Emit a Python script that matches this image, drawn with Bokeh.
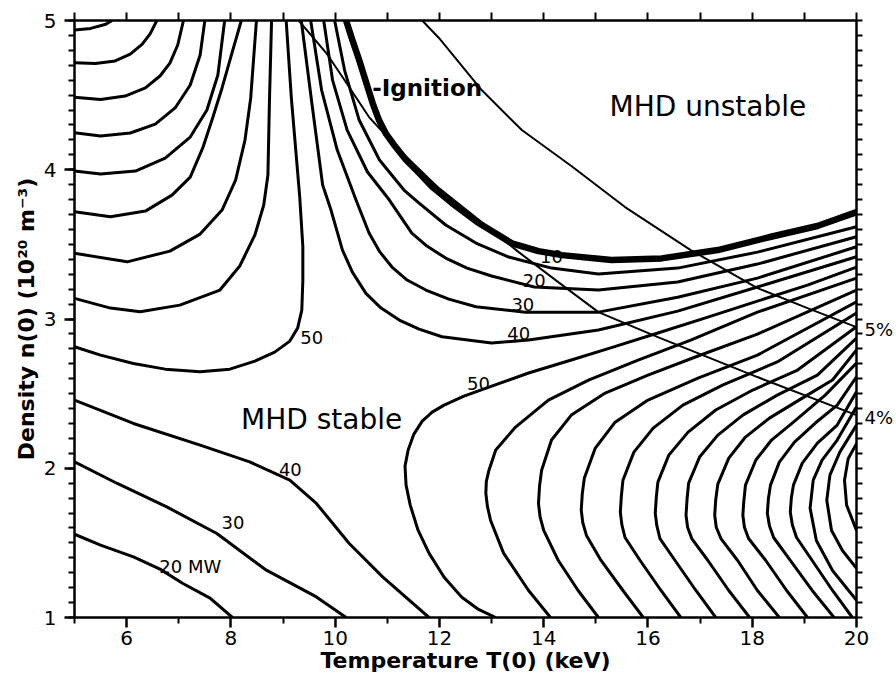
from bokeh.plotting import figure
from bokeh.models import (FixedTicker, LinearAxis, Label, ColumnDataSource, Range1d,
                          CustomJSTickFormatter)
from bokeh.embed import file_html
from bokeh.resources import INLINE
from bokeh.core.properties import value

# ---------------- axis ticks ----------------
T_MAJOR = [6, 8, 10, 12, 14, 16, 18, 20]
T_MINOR = [5, 7, 9, 11, 13, 15, 17, 19]
T_ALL = list(range(5, 21))
N_MAJOR = [1, 2, 3, 4, 5]
N_MINOR = [round(1 + 0.1 * i, 1) for i in range(41)]

# ---------------- digitised contours (T in keV, n in 1e20 m^-3) ----------------
# lower-left auxiliary power contours
P20_T = [5, 5.5, 6.13, 6.64, 7.08, 7.6, 8.03]
P20_N = [1.558, 1.485, 1.406, 1.324, 1.228, 1.13, 1.0]
P30_T = [5, 5.82, 6.77, 7.73, 8.68, 9.64, 10.21]
P30_N = [2.043, 1.898, 1.741, 1.563, 1.317, 1.138, 1.0]
P40_T = [5, 6.13, 7.41, 8.36, 9.13, 9.64, 10.27, 10.91, 11.8]
P40_N = [2.456, 2.30, 2.155, 2.043, 1.92, 1.764, 1.496, 1.272, 1.0]

# upper-left family
U1_T = [5, 5.31, 5.6, 5.72]
U1_N = [4.936, 4.947, 4.975, 5.0]
U2_T = [5, 5.40, 5.78, 6.07, 6.30, 6.45, 6.58]
U2_N = [4.717, 4.712, 4.729, 4.775, 4.842, 4.910, 5.0]
U3_T = [5, 5.50, 5.97, 6.36, 6.64, 6.83, 6.98, 7.09]
U3_N = [4.485, 4.470, 4.494, 4.548, 4.628, 4.715, 4.836, 5.0]
U4_T = [5, 5.50, 6.07, 6.55, 6.93, 7.22, 7.41, 7.50]
U4_N = [4.248, 4.226, 4.246, 4.306, 4.414, 4.568, 4.769, 5.0]
U5_T = [5, 5.50, 6.17, 6.74, 7.22, 7.54, 7.75, 7.88]
U5_N = [3.991, 3.971, 3.991, 4.078, 4.219, 4.400, 4.635, 5.0]
U6_T = [5, 5.69, 6.36, 6.87, 7.22, 7.46, 7.65, 7.83, 8.02, 8.20]
U6_N = [3.718, 3.685, 3.723, 3.830, 3.951, 4.146, 4.347, 4.548, 4.782, 5.0]
U7_T = [5, 6.01, 6.83, 7.41, 7.83, 8.09, 8.27, 8.38, 8.49]
U7_N = [3.440, 3.383, 3.455, 3.569, 3.730, 3.931, 4.199, 4.481, 5.0]
U8_T = [5, 5.69, 6.26, 7.02, 7.79, 8.17, 8.46, 8.63, 8.71, 8.74, 8.78]
U8_N = [3.138, 3.073, 3.048, 3.093, 3.194, 3.355, 3.563, 3.764, 3.965, 4.467, 5.0]
P50A_T = [5, 5.50, 6.13, 6.74, 7.41, 7.98, 8.46, 8.84, 9.13, 9.28, 9.36, 9.38, 9.38, 9.32, 9.16, 9.06]
P50A_N = [2.814, 2.758, 2.702, 2.664, 2.646, 2.664, 2.718, 2.778, 2.852, 2.939, 3.059, 3.260, 3.484, 3.819, 4.479, 5.0]

# contours just below the ignition line
R40_T = [9.35, 9.55, 9.76, 9.92, 10.14, 10.33, 10.59, 10.88, 11.23, 11.61, 12.05, 13.00, 13.71, 15.05, 16.57, 18.10, 20.0]
R40_N = [5.0, 4.454, 3.898, 3.730, 3.462, 3.314, 3.172, 3.073, 2.993, 2.932, 2.881, 2.839, 2.859, 2.926, 3.053, 3.214, 3.417]
R30_T = [9.53, 9.74, 10.04, 10.40, 10.65, 10.86, 11.09, 11.38, 11.74, 12.18, 12.70, 13.65, 15.05, 16.57, 18.10, 20.0]
R30_N = [5.0, 4.534, 4.132, 3.797, 3.576, 3.448, 3.348, 3.261, 3.194, 3.133, 3.082, 3.046, 3.046, 3.146, 3.274, 3.484]
R20_T = [9.78, 9.95, 10.23, 10.62, 11.04, 11.47, 11.76, 12.12, 12.53, 13.00, 13.82, 15.05, 16.57, 18.10, 20.0]
R20_N = [5.0, 4.601, 4.266, 3.985, 3.797, 3.576, 3.489, 3.408, 3.341, 3.288, 3.214, 3.194, 3.248, 3.368, 3.551]
R10_T = [9.99, 10.18, 10.46, 10.85, 11.32, 11.61, 12.12, 12.70, 13.33, 14.15, 15.05, 16.57, 18.10, 20.0]
R10_N = [5.0, 4.668, 4.333, 4.065, 3.864, 3.777, 3.630, 3.509, 3.415, 3.341, 3.301, 3.341, 3.448, 3.618]

# lower-right C-shaped family (C1 is the 50 MW contour)
C1_T = [13.08, 12.75, 12.43, 12.09, 11.80, 11.59, 11.44, 11.36, 11.34, 11.40, 11.51, 11.67, 11.86,
        12.09, 12.47, 12.95, 13.71, 14.53, 15.33, 16.19, 17.15, 18.10, 19.06, 20.0]
C1_N = [1.0, 1.054, 1.136, 1.270, 1.431, 1.585, 1.753, 1.887, 2.014, 2.122, 2.229, 2.316, 2.376,
        2.423, 2.483, 2.544, 2.638, 2.725, 2.812, 2.906, 3.013, 3.120, 3.227, 3.348]
C2_T = [14.13, 13.71, 13.23, 12.98, 12.92, 12.89, 12.90, 12.95, 13.08, 13.46, 14.09, 14.86, 15.81, 16.82, 18.10, 20.0]
C2_N = [1.0, 1.181, 1.431, 1.652, 1.745, 1.833, 1.912, 1.987, 2.122, 2.276, 2.457, 2.591, 2.725, 2.859, 3.046, 3.274]
C3_T = [15.05, 14.66, 14.28, 14.0, 13.93, 13.90, 13.92, 13.96, 14.15, 14.53, 15.18, 16.0, 16.96, 18.10, 20.0]
C3_N = [1.0, 1.181, 1.382, 1.584, 1.675, 1.765, 1.880, 1.987, 2.189, 2.356, 2.504, 2.624, 2.752, 2.899, 3.194]
C4_T = [15.91, 15.52, 15.10, 14.82, 14.75, 14.72, 14.74, 14.78, 14.99, 15.37, 16.0, 16.96, 18.10, 20.0]
C4_N = [1.0, 1.181, 1.382, 1.550, 1.635, 1.719, 1.830, 1.934, 2.135, 2.309, 2.457, 2.604, 2.758, 3.115]
C5_T = [16.63, 16.25, 15.85, 15.56, 15.50, 15.47, 15.49, 15.52, 15.73, 16.10, 16.67, 17.43, 18.48, 20.0]
C5_N = [1.0, 1.181, 1.382, 1.536, 1.620, 1.706, 1.815, 1.920, 2.108, 2.269, 2.423, 2.557, 2.712, 3.040]
C6_T = [17.30, 16.92, 16.52, 16.23, 16.17, 16.14, 16.16, 16.19, 16.40, 16.77, 17.30, 18.01, 18.87, 20.0]
C6_N = [1.0, 1.181, 1.382, 1.529, 1.615, 1.699, 1.805, 1.907, 2.088, 2.242, 2.390, 2.524, 2.658, 2.948]
C7_T = [17.95, 17.55, 17.15, 16.84, 16.76, 16.73, 16.75, 16.78, 16.99, 17.34, 17.82, 18.48, 19.25, 20.0]
C7_N = [1.0, 1.181, 1.382, 1.529, 1.605, 1.686, 1.795, 1.900, 2.075, 2.222, 2.356, 2.490, 2.624, 2.872]
C8_T = [18.52, 18.10, 17.72, 17.40, 17.31, 17.28, 17.30, 17.34, 17.55, 17.87, 18.33, 18.96, 19.54, 20.0]
C8_N = [1.0, 1.181, 1.382, 1.529, 1.605, 1.686, 1.790, 1.894, 2.068, 2.209, 2.336, 2.470, 2.591, 2.792]
C9_T = [19.06, 18.66, 18.26, 17.93, 17.85, 17.82, 17.84, 17.87, 18.07, 18.37, 18.79, 19.40, 20.0]
C9_N = [1.0, 1.181, 1.382, 1.529, 1.605, 1.686, 1.785, 1.887, 2.055, 2.189, 2.309, 2.490, 2.705]
C10_T = [19.57, 19.15, 18.73, 18.41, 18.33, 18.29, 18.31, 18.35, 18.52, 18.81, 19.21, 19.63, 20.0]
C10_N = [1.0, 1.181, 1.382, 1.536, 1.615, 1.699, 1.795, 1.887, 2.041, 2.175, 2.303, 2.423, 2.613]
C11_T = [19.92, 19.54, 19.15, 18.85, 18.77, 18.73, 18.75, 18.79, 18.96, 19.25, 19.63, 20.0]
C11_N = [1.0, 1.181, 1.382, 1.536, 1.620, 1.706, 1.800, 1.887, 2.034, 2.168, 2.289, 2.512]
C12_T = [20.0, 19.54, 19.23, 19.11, 19.17, 19.34, 19.63, 20.0]
C12_N = [1.116, 1.315, 1.516, 1.733, 1.920, 2.055, 2.189, 2.412]
C13_T = [20.0, 19.73, 19.52, 19.43, 19.49, 19.68, 20.0]
C13_N = [1.330, 1.449, 1.584, 1.786, 1.954, 2.108, 2.289]
C14_T = [20.0, 19.84, 19.77, 19.81, 20.0]
C14_N = [2.165, 2.064, 1.920, 1.753, 1.584]

# ignition line and beta limits
IGN_T = [10.21, 10.33, 10.46, 10.58, 10.72, 10.84, 10.97, 11.13, 11.36, 11.61, 11.86, 12.24, 12.76,
         13.39, 13.90, 14.35, 15.30, 16.26, 17.34, 18.36, 19.25, 20.0]
IGN_N = [5.0, 4.869, 4.735, 4.601, 4.445, 4.333, 4.244, 4.166, 4.065, 3.978, 3.886, 3.777, 3.641,
         3.507, 3.455, 3.428, 3.395, 3.406, 3.462, 3.551, 3.623, 3.716]
BETA5_T = [11.67, 11.99, 12.81, 13.58, 14.53, 15.56, 16.82, 18.10, 19.06, 20.0]
BETA5_N = [5.0, 4.883, 4.534, 4.266, 4.025, 3.750, 3.462, 3.207, 3.073, 2.946]
BETA4_T = [9.30, 9.83, 10.14, 10.65, 11.23, 11.99, 12.76, 13.52, 14.28, 15.05, 16.19, 18.10, 20.0]
BETA4_N = [5.0, 4.782, 4.621, 4.353, 4.132, 3.877, 3.663, 3.448, 3.247, 3.046, 2.879, 2.611, 2.356]
BETA_LABEL_N = [2.93, 2.34]

# contour labels
LABEL_TEXT = ["20 MW", "30", "40", "50", "40", "30", "20", "10", "50"]
LABEL_T = [7.22, 8.04, 9.14, 9.55, 13.52, 13.60, 13.82, 14.15, 12.75]
LABEL_N = [1.344, 1.639, 1.994, 2.879, 2.906, 3.100, 3.261, 3.42, 2.571]

CONTOURS = [
    (P20_T, P20_N), (P30_T, P30_N), (P40_T, P40_N),
    (U1_T, U1_N), (U2_T, U2_N), (U3_T, U3_N), (U4_T, U4_N), (U5_T, U5_N),
    (U6_T, U6_N), (U7_T, U7_N), (U8_T, U8_N), (P50A_T, P50A_N),
    (R40_T, R40_N), (R30_T, R30_N), (R20_T, R20_N), (R10_T, R10_N),
    (C1_T, C1_N), (C2_T, C2_N), (C3_T, C3_N), (C4_T, C4_N), (C5_T, C5_N),
    (C6_T, C6_N), (C7_T, C7_N), (C8_T, C8_N), (C9_T, C9_N), (C10_T, C10_N),
    (C11_T, C11_N), (C12_T, C12_N), (C13_T, C13_N), (C14_T, C14_N),
]

FONT = "DejaVu Sans"

p = figure(width=896, height=680, x_range=Range1d(5, 20), y_range=Range1d(1, 5),
           x_axis_location=None, y_axis_location=None,
           output_backend="svg", toolbar_location=None,
           min_border_left=74, min_border_right=37, min_border_top=20, min_border_bottom=63,
           background_fill_color="white", border_fill_color="white")
p.outline_line_color = None
p.grid.visible = False


def style_axis(ax):
    ax.axis_line_width = 2.5
    ax.axis_line_color = "black"
    ax.major_tick_line_width = 2.5
    ax.major_tick_line_color = "black"
    ax.minor_tick_line_width = 2
    ax.minor_tick_line_color = "black"
    ax.major_tick_in = 0
    ax.major_tick_out = 10
    ax.minor_tick_in = 0
    ax.minor_tick_out = 6
    ax.major_label_text_font = FONT
    ax.major_label_text_font_size = "20px"
    ax.major_label_text_color = "black"
    return ax


xb = style_axis(LinearAxis(ticker=FixedTicker(ticks=T_MAJOR, minor_ticks=T_MINOR)))
xb.major_label_standoff = 3
xb.axis_label = "Temperature T(0) (keV)"
xb.axis_label_text_font = FONT
xb.axis_label_text_font_style = "bold"
xb.axis_label_text_font_size = "22px"
xb.axis_label_text_color = "black"
xb.axis_label_standoff = 0
p.add_layout(xb, "below")

yl = style_axis(LinearAxis(ticker=FixedTicker(ticks=N_MAJOR, minor_ticks=N_MINOR)))
yl.major_label_standoff = 8
yl.axis_label = "Density n(0) (10\u00b2\u2070 m\u207b\u00b3)"
yl.axis_label_text_font = FONT
yl.axis_label_text_font_style = "bold"
yl.axis_label_text_font_size = "22px"
yl.axis_label_text_color = "black"
yl.axis_label_standoff = 2
p.add_layout(yl, "left")

# top axis: tick marks only
xt = style_axis(LinearAxis(ticker=FixedTicker(ticks=[], minor_ticks=T_ALL)))
xt.minor_tick_out = 8
p.add_layout(xt, "above")

# right axis: minor tick marks plus the beta-limit labels
yr = style_axis(LinearAxis(ticker=FixedTicker(ticks=BETA_LABEL_N, minor_ticks=N_MINOR)))
yr.major_tick_out = 0
yr.major_label_standoff = 2
yr.major_label_text_font_size = "18px"
yr.formatter = CustomJSTickFormatter(code="return tick > 2.6 ? '5%' : '4%';")
p.add_layout(yr, "right")

# contours
p.multi_line(xs=[c[0] for c in CONTOURS], ys=[c[1] for c in CONTOURS],
             line_color="black", line_width=3, line_join="round")

# contour labels
src = ColumnDataSource(dict(x=LABEL_T, y=LABEL_N, text=LABEL_TEXT))
p.text(x="x", y="y", text="text", source=src, text_font=value(FONT),
       text_font_size="18px", text_align="center", text_baseline="middle",
       text_color="black")

# beta limit lines
p.multi_line(xs=[BETA5_T, BETA4_T], ys=[BETA5_N, BETA4_N],
             line_color="black", line_width=2)

# ignition line
p.line(IGN_T, IGN_N, line_color="black", line_width=6.5, line_join="round")

# annotations
p.add_layout(Label(x=10.71, y=4.547, text="-Ignition", text_font=FONT,
                   text_font_style="bold", text_font_size="23px",
                   text_align="left", text_baseline="alphabetic", text_color="black"))
p.add_layout(Label(x=17.15, y=4.427, text="MHD unstable", text_font=FONT,
                   text_font_size="28px", text_align="center",
                   text_baseline="alphabetic", text_color="black"))
p.add_layout(Label(x=9.74, y=2.329, text="MHD stable", text_font=FONT,
                   text_font_size="28px", text_align="center",
                   text_baseline="alphabetic", text_color="black"))

open("out.html", "w").write(file_html(p, INLINE))
